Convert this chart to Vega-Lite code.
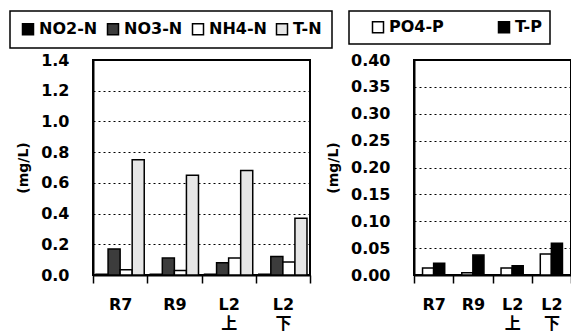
{
  "$schema": "https://vega.github.io/schema/vega-lite/v6.json",
  "padding": {"left": 8, "top": 9, "right": 0, "bottom": 0},
  "autosize": {"type": "pad"},
  "background": "white",
  "config": {
    "font": "DejaVu Sans, Noto Sans CJK JP",
    "view": {"stroke": "black", "strokeWidth": 2},
    "axis": {
      "labelFontWeight": "bold", "labelFontSize": 16, "labelColor": "black",
      "titleFontWeight": "bold", "titleFontSize": 14, "titleColor": "black",
      "domainColor": "black", "domainWidth": 2, "tickColor": "black",
      "gridColor": "black", "gridDash": [2, 3], "gridWidth": 1, "gridOpacity": 1
    },
    "legend": {
      "labelFontWeight": "bold", "labelFontSize": 16, "labelColor": "black",
      "symbolType": "square", "symbolSize": 121, "symbolStrokeColor": "black",
      "symbolStrokeWidth": 1.5, "symbolOpacity": 1, "labelOffset": 3,
      "strokeColor": "black", "strokeWidth": 1.5, "fillColor": "white",
      "direction": "horizontal", "orient": "none"
    }
  },
  "datasets": {
    "n": [
      {"site": "R7", "param": "NO2-N", "value": 0.005},
      {"site": "R7", "param": "NO3-N", "value": 0.17},
      {"site": "R7", "param": "NH4-N", "value": 0.035},
      {"site": "R7", "param": "T-N", "value": 0.75},
      {"site": "R9", "param": "NO2-N", "value": 0.005},
      {"site": "R9", "param": "NO3-N", "value": 0.11},
      {"site": "R9", "param": "NH4-N", "value": 0.03},
      {"site": "R9", "param": "T-N", "value": 0.65},
      {"site": "L2\n上", "param": "NO2-N", "value": 0.005},
      {"site": "L2\n上", "param": "NO3-N", "value": 0.08},
      {"site": "L2\n上", "param": "NH4-N", "value": 0.11},
      {"site": "L2\n上", "param": "T-N", "value": 0.68},
      {"site": "L2\n下", "param": "NO2-N", "value": 0.005},
      {"site": "L2\n下", "param": "NO3-N", "value": 0.12},
      {"site": "L2\n下", "param": "NH4-N", "value": 0.085},
      {"site": "L2\n下", "param": "T-N", "value": 0.37}
    ],
    "p": [
      {"site": "R7", "param": "PO4-P", "value": 0.013},
      {"site": "R7", "param": "T-P", "value": 0.022},
      {"site": "R9", "param": "PO4-P", "value": 0.004},
      {"site": "R9", "param": "T-P", "value": 0.037},
      {"site": "L2\n上", "param": "PO4-P", "value": 0.013},
      {"site": "L2\n上", "param": "T-P", "value": 0.017},
      {"site": "L2\n下", "param": "PO4-P", "value": 0.039},
      {"site": "L2\n下", "param": "T-P", "value": 0.059}
    ]
  },
  "spacing": 104,
  "bounds": "flush",
  "resolve": {"scale": {"color": "independent", "y": "independent", "x": "independent", "xOffset": "independent"}, "legend": {"color": "independent"}},
  "hconcat": [
    {
      "width": 217, "height": 215,
      "data": {"name": "n"},
      "mark": {"type": "bar", "stroke": "black", "strokeWidth": 1.5},
      "encoding": {
        "x": {
          "field": "site", "type": "nominal", "sort": ["R7", "R9", "L2\n上", "L2\n下"],
          "scale": {"paddingInner": 0, "paddingOuter": 0},
          "axis": {"title": null, "labelAngle": 0, "tickBand": "extent", "tickSize": 8, "tickWidth": 1.5, "labelPadding": 13, "labelLineHeight": 19, "labelExpr": "split(datum.label, '\\n')", "grid": false}
        },
        "xOffset": {"field": "param", "type": "nominal", "sort": ["NO2-N", "NO3-N", "NH4-N", "T-N"], "scale": {"paddingInner": 0, "paddingOuter": 0.25}},
        "y": {
          "field": "value", "type": "quantitative",
          "scale": {"domain": [0, 1.4], "nice": false},
          "axis": {"title": "(mg/L)", "values": [0, 0.2, 0.4, 0.6, 0.8, 1.0, 1.2, 1.4], "format": ".1f", "ticks": false, "labelPadding": 24, "titlePadding": 10, "grid": true}
        },
        "color": {
          "field": "param", "type": "nominal",
          "scale": {"domain": ["NO2-N", "NO3-N", "NH4-N", "T-N"], "range": ["#000000", "#3c3c3c", "#ffffff", "#e6e6e6"]},
          "legend": {"title": null, "legendX": -83, "legendY": -49, "padding": 10, "columnPadding": 6, "gridAlign": "each"}
        }
      }
    },
    {
      "width": 157, "height": 215,
      "data": {"name": "p"},
      "mark": {"type": "bar", "stroke": "black", "strokeWidth": 1.5},
      "encoding": {
        "x": {
          "field": "site", "type": "nominal", "sort": ["R7", "R9", "L2\n上", "L2\n下"],
          "scale": {"paddingInner": 0, "paddingOuter": 0},
          "axis": {"title": null, "labelAngle": 0, "tickBand": "extent", "tickSize": 8, "tickWidth": 1.5, "labelPadding": 13, "labelLineHeight": 19, "labelExpr": "split(datum.label, '\\n')", "grid": false}
        },
        "xOffset": {"field": "param", "type": "nominal", "sort": ["PO4-P", "T-P"], "scale": {"paddingInner": 0, "paddingOuter": 0.77}},
        "y": {
          "field": "value", "type": "quantitative",
          "scale": {"domain": [0, 0.4], "nice": false},
          "axis": {"title": "(mg/L)", "values": [0, 0.05, 0.1, 0.15, 0.2, 0.25, 0.3, 0.35, 0.4], "format": ".2f", "ticks": false, "labelPadding": 24, "titlePadding": 10, "grid": true}
        },
        "color": {
          "field": "param", "type": "nominal",
          "scale": {"domain": ["PO4-P", "T-P"], "range": ["#ffffff", "#000000"]},
          "legend": {"title": "\u00a0", "titleOrient": "left", "titleFontSize": 8, "titlePadding": 13, "legendX": -65, "legendY": -49, "padding": 8, "columnPadding": 51, "gridAlign": "all"}
        }
      }
    }
  ]
}
